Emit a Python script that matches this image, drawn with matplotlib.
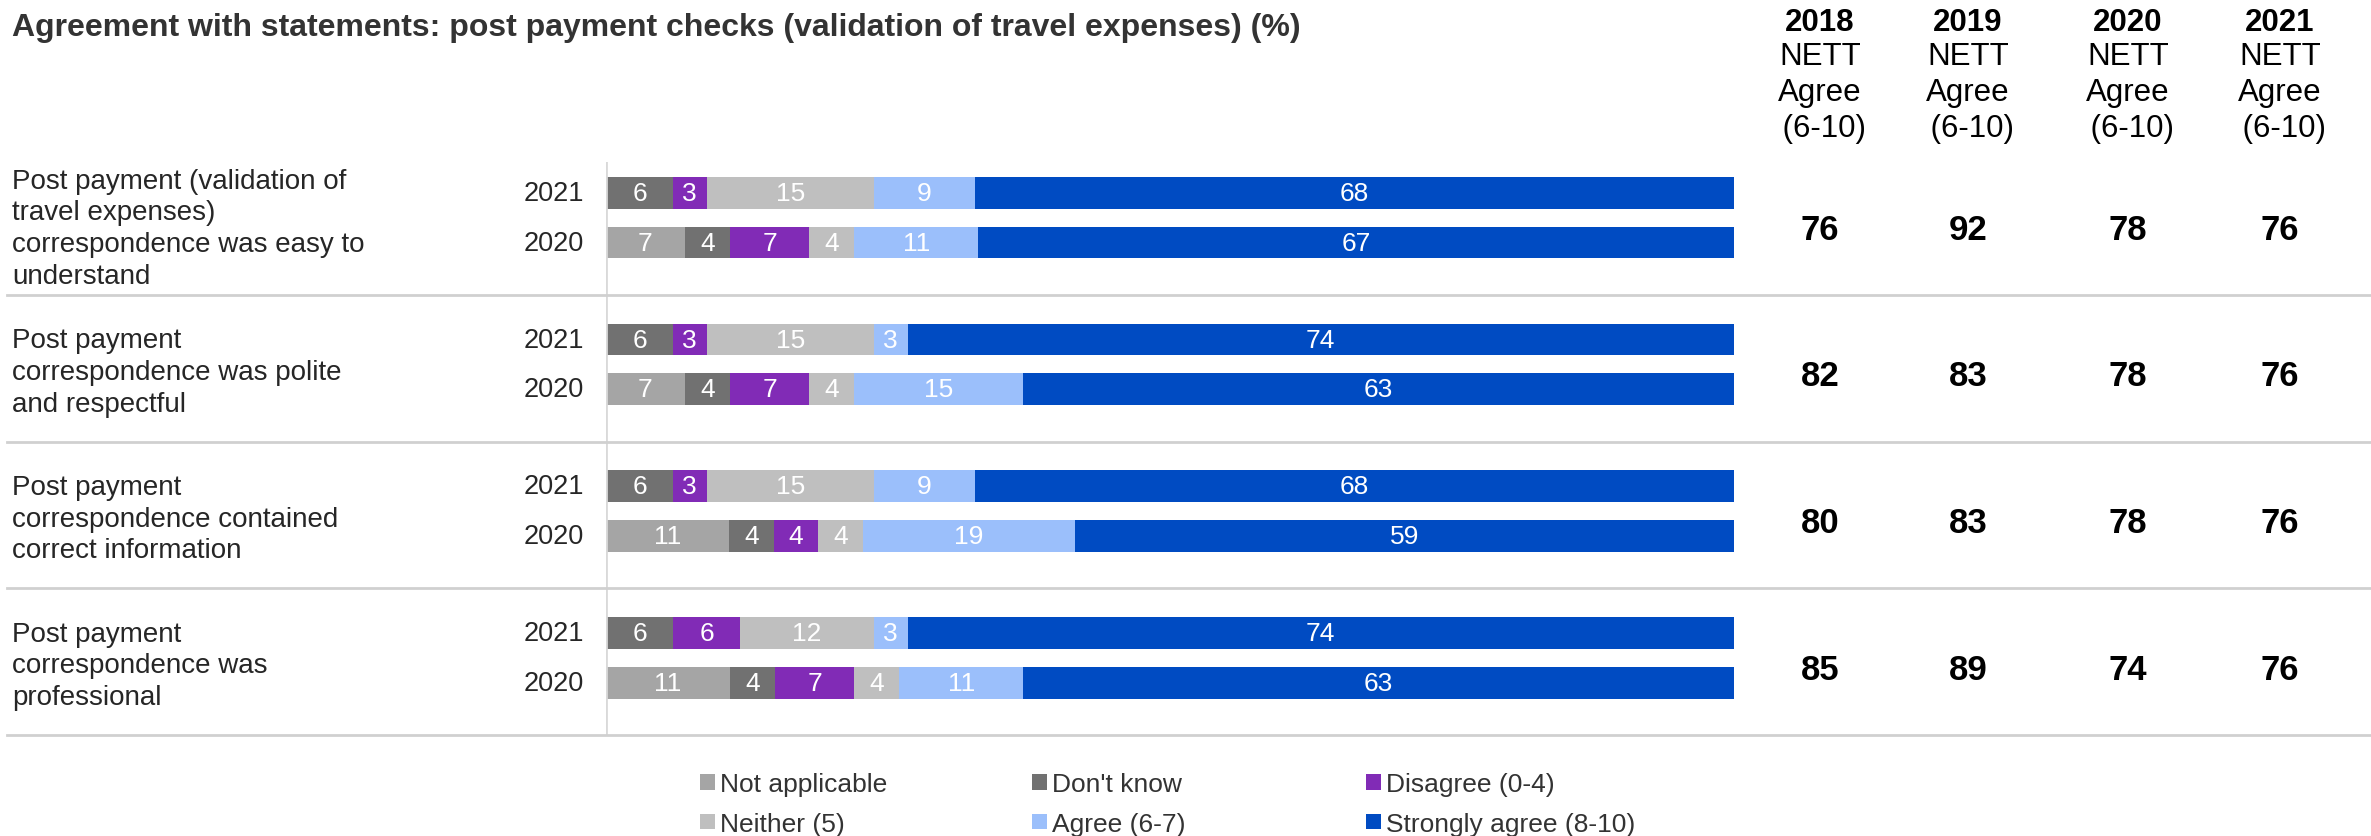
import matplotlib.pyplot as plt
from matplotlib.patches import Patch
from matplotlib.transforms import blended_transform_factory

plt.rcParams['font.family'] = ['Liberation Sans', 'DejaVu Sans']

# response categories, stacked left to right
categories = ['Not applicable', "Don't know", 'Disagree (0-4)',
              'Neither (5)', 'Agree (6-7)', 'Strongly agree (8-10)']
colors = ['#A5A5A5', '#717171', '#812BB6', '#BFBFBF', '#9BBFFB', '#004BC2']

statements = [
    'Post payment (validation of\ntravel expenses)\ncorrespondence was easy to\nunderstand',
    'Post payment\ncorrespondence was polite\nand respectful',
    'Post payment\ncorrespondence contained\ncorrect information',
    'Post payment\ncorrespondence was\nprofessional',
]
years = ['2021', '2020']

# values per statement: [2021 row, 2020 row], in category order
values = [
    [[0, 6, 3, 15, 9, 68], [7, 4, 7, 4, 11, 67]],
    [[0, 6, 3, 15, 3, 74], [7, 4, 7, 4, 15, 63]],
    [[0, 6, 3, 15, 9, 68], [11, 4, 4, 4, 19, 59]],
    [[0, 6, 6, 12, 3, 74], [11, 4, 7, 4, 11, 63]],
]

nett_years = ['2018', '2019', '2020', '2021']
nett = [
    [76, 92, 78, 76],
    [82, 83, 78, 76],
    [80, 83, 78, 76],
    [85, 89, 74, 76],
]

W, H = 2371, 837
fig = plt.figure(figsize=(W / 100, H / 100), dpi=100)
ax = fig.add_axes([606 / W, 1 - 736 / H, 1128 / W, 573 / H])

step = 2.95
sep_off = 2.12
bar_off = 0.07
for g, rows in enumerate(values):
    for r, row in enumerate(rows):
        y = g * step + r + bar_off
        total = sum(row)
        left = 0
        for v, c in zip(row, colors):
            w = v / total * 100
            if v > 0:
                ax.barh(y, w, left=left, height=0.64, color=c, edgecolor='none')
                ax.text(left + w / 2, y, str(v), ha='center', va='center',
                        color='white', fontsize=19)
            left += w

ax.set_xlim(0, 100)
ax.set_ylim(3 * step + sep_off, -0.55)
ax.axis('off')
ax.axvline(0, color='#D9D9D9', lw=2)

fig_y = blended_transform_factory(fig.transFigure, ax.transData)
label_off = [0.78, 0.72, 0.72, 0.72]
for g in range(len(statements)):
    # separator under each statement block, across the whole width
    ax.plot([0.003, 1.0], [g * step + sep_off] * 2, color='#D0D0D0', lw=2,
            transform=fig_y, clip_on=False)
    ax.text(12 / W, g * step + label_off[g], statements[g], transform=fig_y,
            ha='left', va='center', fontsize=20, color='#262626', linespacing=1.28)
    for r, yr in enumerate(years):
        ax.text(584 / W, g * step + r + bar_off, yr, transform=fig_y, ha='right',
                va='center', fontsize=19.5, color='#262626')

col_x = [1820, 1968, 2128, 2280]
for k, yr in enumerate(nett_years):
    x = col_x[k] / W
    fig.text(x, 1 - 23 / H, yr, ha='center', va='center', fontsize=22.5,
             fontweight='bold', color='black')
    fig.text(x, 1 - 42 / H, 'NETT\nAgree\n (6-10)', ha='center', va='top',
             fontsize=22.5, color='black', linespacing=1.26)
    for g in range(len(nett)):
        ax.text(x, g * step + 0.8, str(nett[g][k]), transform=fig_y,
                ha='center', va='center', fontsize=25, fontweight='bold',
                color='black')

fig.text(12 / W, 1 - 28 / H,
         'Agreement with statements: post payment checks (validation of travel expenses) (%)',
         ha='left', va='center', fontsize=23, fontweight='bold', color='#333333')

# legend: three columns of two entries each
leg_x = [700, 1032, 1366]
for k in range(3):
    items = [k, k + 3]
    handles = [Patch(facecolor=colors[i], edgecolor='none') for i in items]
    leg = fig.legend(handles, [categories[i] for i in items],
                     loc='upper left', bbox_to_anchor=(leg_x[k] / W, 1 - 773 / H),
                     frameon=False, fontsize=19, handlelength=0.55,
                     handleheight=0.55, handletextpad=0.2, labelspacing=0.6,
                     borderaxespad=0, borderpad=0)
    for t in leg.get_texts():
        t.set_color('#333333')

fig.savefig('out.png', dpi=100)
